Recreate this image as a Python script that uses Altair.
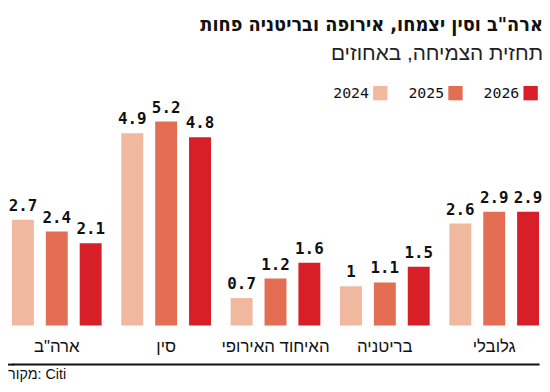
import altair as alt
import pandas as pd

categories = ["ארה\"ב", "סין", "האיחוד האירופי", "בריטניה", "גלובלי"]
years = ["2024", "2025", "2026"]
v2024 = [2.7, 4.9, 0.7, 1.0, 2.6]
v2025 = [2.4, 5.2, 1.2, 1.1, 2.9]
v2026 = [2.1, 4.8, 1.6, 1.5, 2.9]
colors = ["#F1B8A0", "#E46E54", "#D81E26"]

title_text = "ארה\"ב וסין יצמחו, אירופה ובריטניה פחות"
subtitle_text = "תחזית הצמיחה, באחוזים"
source_text = "מקור: Citi"

rows = []
for yr, vals in zip(years, [v2024, v2025, v2026]):
    for c, v in zip(categories, vals):
        rows.append({"category": c, "year": yr, "value": v,
                     "label": ("%g" % v)})
df = pd.DataFrame(rows)
leg = pd.DataFrame({"year": years})

PW, PH = 533, 238
color = alt.Color("year:N", scale=alt.Scale(domain=years, range=colors), legend=None)
xenc = alt.X("category:N", sort=categories, title=None,
             scale=alt.Scale(paddingInner=0.18, paddingOuter=0),
             axis=alt.Axis(labelFont="Liberation Sans", labelFontSize=17,
                           labelColor="#111", labelPadding=-26, ticks=False,
                           offset=39, domain=True, domainColor="#111",
                           domainWidth=2, labelAngle=0))
xoff = alt.XOffset("year:N", sort=years, scale=alt.Scale(paddingInner=0.353, paddingOuter=0))
yenc = alt.Y("value:Q", scale=alt.Scale(domain=[0, 6], nice=False), axis=None)

base = alt.Chart(df).encode(x=xenc, xOffset=xoff, y=yenc)
bars = base.mark_bar().encode(color=color)
labels = base.mark_text(font="DejaVu Sans Mono", fontWeight="bold", fontSize=16,
                        baseline="alphabetic", dy=-9, color="#111").encode(text="label:N")
main = alt.layer(bars, labels)

legx = alt.X("year:N", sort=years, axis=None,
             scale=alt.Scale(type="point", domain=years, range=[372.5, 524.5], padding=0))
leg_sq = alt.Chart(leg).mark_square(size=210, opacity=1, y=3).encode(
    x=legx, color=color)
leg_tx = alt.Chart(leg).mark_text(font="DejaVu Sans Mono", fontSize=15, align="right",
                                  baseline="middle", dx=-11.5, y=3, color="#111").encode(
    x=legx, text="year:N")
legend = alt.layer(leg_sq, leg_tx)

line_ext = alt.Chart(pd.DataFrame({"k": [0]})).mark_rect(color="#111").encode(
    x=alt.value(-4), x2=alt.value(2), y=alt.value(276.5), y2=alt.value(278.5))
src = alt.Chart(pd.DataFrame({"t": [source_text]})).mark_text(
    font="Liberation Sans", fontSize=14.5, dir="rtl", align="left", baseline="alphabetic",
    color="#111").encode(x=alt.value(-4), y=alt.value(292.5), text="t:N")

chart = alt.layer(main, legend, line_ext, src).resolve_scale(x="independent").properties(
    width=PW, height=PH,
    padding={"left": 4, "top": 81, "right": 3, "bottom": 57},
    autosize=alt.AutoSizeParams(type="none"),
    title=alt.TitleParams(text=title_text, subtitle=subtitle_text, anchor="end",
                          frame="group", orient="top", offset=22, dx=4,
                          font="DejaVu Sans Condensed, Liberation Sans", fontSize=20,
                          fontWeight="bold", color="#111",
                          subtitleFont="Liberation Sans", subtitleFontSize=21,
                          subtitleColor="#222", subtitlePadding=9),
).configure_view(stroke=None)

chart.save("out.html", embed_options={"renderer": "svg", "actions": False})
